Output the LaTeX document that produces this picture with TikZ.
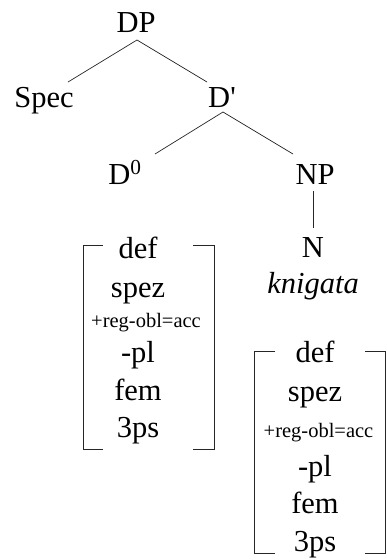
\documentclass[tikz,border=0pt]{standalone}
\usepackage{fontspec}
\setmainfont{Liberation Serif}
\begin{document}
\begin{tikzpicture}[x=1pt,y=-1pt,
  lbl/.style={inner sep=0pt, anchor=base, font=\fontsize{30.5}{33}\selectfont},
  sm/.style={inner sep=0pt, anchor=base, font=\fontsize{20.5}{22}\selectfont},
  edge/.style={line width=0.7pt, draw=black!85},
  brk/.style={line width=0.7pt, draw=black!85}]
\useasboundingbox (0,0) rectangle (386,560);
% tree
\node[lbl] (DP) at (136,32) {DP};
\node[lbl] (Spec) at (44,107) {Spec};
\node[lbl] (Dbar) at (222,107) {D\textquotesingle};
\node[lbl] (D0) at (125,184) {D\textsuperscript{0}};
\node[lbl] (NP) at (315,184) {NP};
\node[lbl] (N) at (313,257) {N};
\node[lbl] (kn) at (313,293) {\itshape knigata};
\coordinate (DPb) at (137,40);
\coordinate (Specb) at (68,82);
\coordinate (Dbart) at (207,82);
\coordinate (Dbarb) at (223,112);
\coordinate (D0t) at (155,154);
\coordinate (NPt) at (293,154);
\coordinate (NPb) at (313,191);
\coordinate (Nt) at (313,228);
\draw[edge] (DPb) -- (Specb);
\draw[edge] (DPb) -- (Dbart);
\draw[edge] (Dbarb) -- (D0t);
\draw[edge] (Dbarb) -- (NPt);
\draw[edge] (NPb) -- (Nt);
% left matrix
\node[lbl] (l1) at (138,258) {def};
\node[lbl] (l2) at (138,297) {spez};
\node[sm]  (l3) at (146,327) {+reg-obl=acc};
\node[lbl] (l4) at (138,362) {-pl};
\node[lbl] (l5) at (138,400) {fem};
\node[lbl] (l6) at (138,437) {3ps};
\draw[brk] (103,245) -- (83,245) -- (83,449) -- (103,449);
\draw[brk] (193,245) -- (214,245) -- (214,449) -- (193,449);
% right matrix
\node[lbl] (r1) at (315,362) {def};
\node[lbl] (r2) at (315,401) {spez};
\node[sm]  (r3) at (318.5,437) {+reg-obl=acc};
\node[lbl] (r4) at (315,476) {-pl};
\node[lbl] (r5) at (315,513) {fem};
\node[lbl] (r6) at (315,551) {3ps};
\draw[brk] (275,351) -- (254,351) -- (254,553) -- (275,553);
\draw[brk] (365,351) -- (385,351) -- (385,553) -- (365,553);
\end{tikzpicture}
\end{document}
